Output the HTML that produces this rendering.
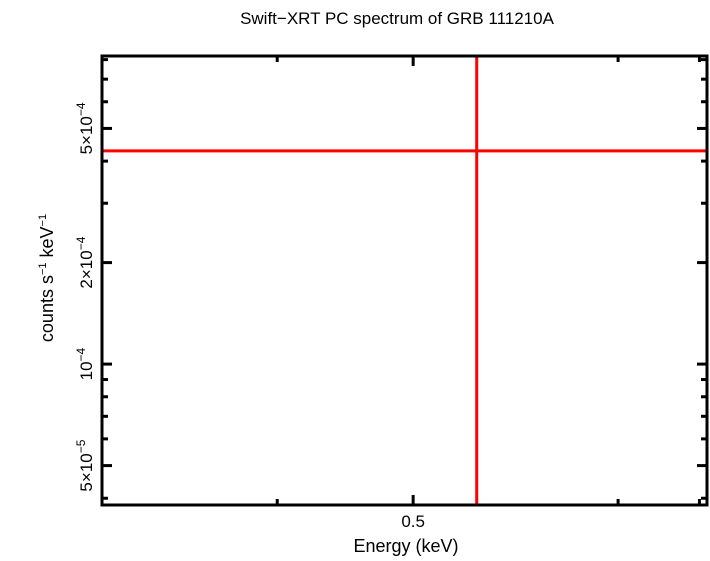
<!DOCTYPE html>
<html><head><meta charset="utf-8"><style>
body{margin:0;background:#fff;width:710px;height:556px;overflow:hidden}
svg{font-family:"Liberation Sans",sans-serif}
</style></head><body>
<svg id="chart" width="710" height="556" viewBox="0 0 710 556">
<text x="397" y="24" font-size="17" text-anchor="middle">Swift−XRT PC spectrum of GRB 111210A</text>
<text x="406" y="552" font-size="18" text-anchor="middle">Energy (keV)</text>
<text transform="translate(53,278) rotate(-90)" font-size="18" text-anchor="middle">counts s<tspan font-size="11" dy="-7">−1</tspan><tspan dy="7"> keV</tspan><tspan font-size="11" dy="-7">−1</tspan></text>
<g id="ticks"></g>
<g id="marks"></g>
<rect x="102" y="56" width="605" height="449" fill="none" stroke="#000" stroke-width="3"/>
</svg>
<script>
const xDomain=[0.300,0.81];
const yDomain=[3.82e-5,8.2e-4];
const xTicks=[0.4,0.5,0.7,0.8];
const xTickLabels=["","0.5","",""];
const yMajor=[5e-5,1e-4,2e-4,5e-4];
const yMajorBase=["5×10","10","2×10","5×10"];
const yMajorExp=["−5","−4","−4","−4"];
const yMinor=[4e-5,6e-5,7e-5,8e-5,9e-5,3e-4,4e-4,6e-4,7e-4,8e-4];
const hLineValue=[4.29e-4];
const vLineValue=[0.555];
const L=102,R=707,T=56,B=505;
function xs(v){return L+(Math.log10(v)-Math.log10(xDomain[0]))/(Math.log10(xDomain[1])-Math.log10(xDomain[0]))*(R-L);}
function ys(v){return B-(Math.log10(v)-Math.log10(yDomain[0]))/(Math.log10(yDomain[1])-Math.log10(yDomain[0]))*(B-T);}
const NS="http://www.w3.org/2000/svg";
const tg=document.getElementById('ticks'),mg=document.getElementById('marks');
function line(g,x1,y1,x2,y2,c,w,name){const l=document.createElementNS(NS,'line');l.setAttribute('x1',x1);l.setAttribute('y1',y1);l.setAttribute('x2',x2);l.setAttribute('y2',y2);l.setAttribute('stroke',c);l.setAttribute('stroke-width',w);


g.appendChild(l);return l;}
xTicks.forEach((v,i)=>{const x=xs(v);const len=xTickLabels[i]?10:6;
line(tg,x,B,x,B-len,'#000',3,'x-tick');line(tg,x,T,x,T+len,'#000',3,'x-tick-top');
if(xTickLabels[i]){const t=document.createElementNS(NS,'text');t.setAttribute('x',x);t.setAttribute('y',527);t.setAttribute('font-size',17);t.setAttribute('text-anchor','middle');t.textContent=xTickLabels[i];


tg.appendChild(t);}});
yMajor.forEach((v,i)=>{const y=ys(v);line(tg,L,y,L+10,y,'#000',3,'y-major-tick');line(tg,R,y,R-10,y,'#000',3,'y-major-tick-right');
const t=document.createElementNS(NS,'text');t.setAttribute('transform','translate(92,'+y+') rotate(-90)');t.setAttribute('font-size',17);t.setAttribute('text-anchor','middle');


const b=document.createElementNS(NS,'tspan');b.textContent=yMajorBase[i];t.appendChild(b);
const e=document.createElementNS(NS,'tspan');e.setAttribute('font-size',12);e.setAttribute('dy',-7);e.textContent=yMajorExp[i];t.appendChild(e);
tg.appendChild(t);});
yMinor.forEach(v=>{const y=ys(v);line(tg,L,y,L+6,y,'#000',3,'y-minor-tick');line(tg,R,y,R-6,y,'#000',3,'y-minor-tick-right');});
hLineValue.forEach(v=>line(mg,L,ys(v),R,ys(v),'#f00',3,'model-horizontal-line'));
vLineValue.forEach(v=>line(mg,xs(v),T,xs(v),B,'#f00',3,'model-vertical-line'));
</script>
</body></html>
